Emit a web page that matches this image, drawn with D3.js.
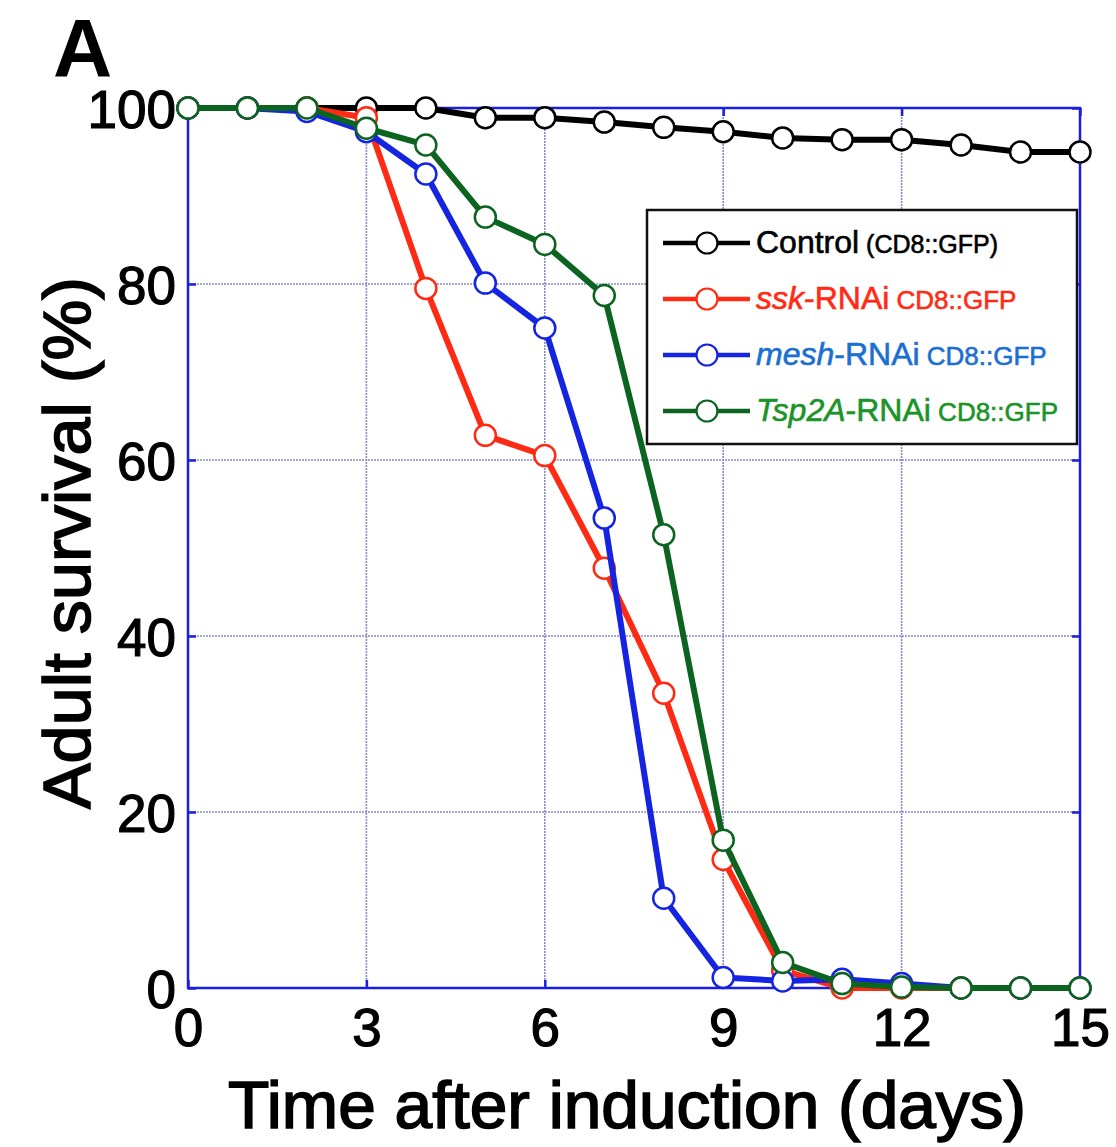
<!DOCTYPE html>
<html>
<head>
<meta charset="utf-8">
<script src="https://cdn.jsdelivr.net/npm/d3@7"></script>
<style>
  html, body { margin: 0; padding: 0; background: #ffffff; }
  svg { display: block; }
  text { font-family: "Liberation Sans", Arial, Helvetica, sans-serif; }
</style>
</head>
<body>
<svg id="chart" width="1116" height="1147"></svg>
<script>
// ---- data ----
const days = [0, 1, 2, 3, 4, 5, 6, 7, 8, 9, 10, 11, 12, 13, 14, 15];
const controlValues = [100, 100, 100, 100, 100, 98.9, 98.9, 98.4, 97.8, 97.3, 96.6, 96.4, 96.4, 95.8, 95.0, 95.0];
const sskValues     = [100, 100, 100, 98.9, 79.5, 62.8, 60.5, 47.7, 33.5, 14.6, 2.0, 0, 0, 0, 0, 0];
const meshValues    = [100, 100, 99.6, 97.3, 92.5, 80.1, 75.0, 53.4, 10.2, 1.2, 0.8, 1.0, 0.5, 0, 0, 0];
const tspValues     = [100, 100, 100, 97.7, 95.8, 87.6, 84.5, 78.7, 51.5, 16.8, 2.9, 0.5, 0.1, 0, 0, 0];
const xTicks = [0, 3, 6, 9, 12, 15];
const yTicks = [0, 20, 40, 60, 80, 100];
const seriesNames = ["Control", "ssk-RNAi", "mesh-RNAi", "Tsp2A-RNAi"];

const series = [
  { name: seriesNames[0], values: controlValues, color: "#000000", text: "#000000",
    parts: [{t: "Control", it: false, size: 32}, {t: " (CD8::GFP)", it: false, size: 25}] },
  { name: seriesNames[1], values: sskValues, color: "#ff2a14", text: "#ff2a14",
    parts: [{t: "ssk", it: true, size: 32}, {t: "-RNAi", it: false, size: 32}, {t: " CD8::GFP", it: false, size: 26}] },
  { name: seriesNames[2], values: meshValues, color: "#1424e0", text: "#1a6fd2",
    parts: [{t: "mesh", it: true, size: 32}, {t: "-RNAi", it: false, size: 32}, {t: " CD8::GFP", it: false, size: 26}] },
  { name: seriesNames[3], values: tspValues, color: "#0d6420", text: "#1a9428",
    parts: [{t: "Tsp2A", it: true, size: 32}, {t: "-RNAi", it: false, size: 32}, {t: " CD8::GFP", it: false, size: 26}] }
];

// ---- layout ----
const svg = d3.select("#chart");
const pL = 188, pR = 1080, pT = 108, pB = 988;
const x = d3.scaleLinear().domain([0, 15]).range([pL, pR]);
const y = d3.scaleLinear().domain([0, 100]).range([pB, pT]);

// grid lines
const grid = svg.append("g");
grid.selectAll("line.gx").data(xTicks.filter(d => d > 0 && d < 15)).join("line")
  .attr("x1", d => x(d)).attr("x2", d => x(d)).attr("y1", pT).attr("y2", pB)
  .attr("stroke", "#8a8ac6").attr("stroke-width", 1.6).attr("stroke-dasharray", "2,1");
grid.selectAll("line.gy").data(yTicks.filter(d => d > 0 && d < 100)).join("line")
  .attr("x1", pL).attr("x2", pR).attr("y1", d => y(d)).attr("y2", d => y(d))
  .attr("stroke", "#8a8ac6").attr("stroke-width", 1.6).attr("stroke-dasharray", "2,1");

// frame
svg.append("rect").attr("x", pL).attr("y", pT).attr("width", pR - pL).attr("height", pB - pT)
  .attr("fill", "none").attr("stroke", "#1a1ee0").attr("stroke-width", 2.5);

// axes (inner ticks)
const axB = svg.append("g").attr("transform", `translate(0,${pB})`)
  .call(d3.axisBottom(x).tickValues(xTicks).tickSizeInner(-8).tickSizeOuter(0).tickPadding(20).tickFormat(d3.format("d")));
const axT = svg.append("g").attr("transform", `translate(0,${pT})`)
  .call(d3.axisTop(x).tickValues(xTicks).tickSizeInner(-8).tickSizeOuter(0).tickFormat(""));
const axL = svg.append("g").attr("transform", `translate(${pL},0)`)
  .call(d3.axisLeft(y).tickValues(yTicks).tickSizeInner(-8).tickSizeOuter(0).tickPadding(12).tickFormat(d3.format("d")));
const axR = svg.append("g").attr("transform", `translate(${pR},0)`)
  .call(d3.axisRight(y).tickValues(yTicks).tickSizeInner(-8).tickSizeOuter(0).tickFormat(""));
[axB, axT, axL, axR].forEach(a => {
  a.select(".domain").remove();
  a.selectAll(".tick line").attr("stroke", "#1a1ee0").attr("stroke-width", 2.5);
});
[axB, axL].forEach(a => a.selectAll(".tick text")
  .attr("font-size", 53).attr("fill", "#000").attr("stroke", "#000").attr("stroke-width", 1.2)
  .attr("font-family", "Liberation Sans, Arial, sans-serif"));
axB.selectAll(".tick text").attr("dy", "0.71em");
axL.selectAll(".tick text").attr("dy", "0.36em");

// lines
const line = d3.line().x((d, i) => x(days[i])).y(d => y(d));
const plot = svg.append("g");
series.forEach(s => {
  plot.append("path").datum(s.values).attr("d", line)
    .attr("fill", "none").attr("stroke", s.color).attr("stroke-width", 6)
    .attr("stroke-linejoin", "round");
  plot.selectAll(null).data(s.values).join("circle")
    .attr("cx", (d, i) => x(days[i])).attr("cy", d => y(d)).attr("r", 10.5)
    .attr("fill", "#ffffff").attr("stroke", s.color).attr("stroke-width", 2.5);
});

// legend
const lg = svg.append("g");
lg.append("rect").attr("x", 647).attr("y", 210).attr("width", 430).attr("height", 234)
  .attr("fill", "#ffffff").attr("stroke", "#111").attr("stroke-width", 2.5);
const rowY = d3.scalePoint().domain(seriesNames).range([243, 411]);
series.forEach(s => {
  const cy = rowY(s.name);
  lg.append("line").attr("x1", 663).attr("x2", 750).attr("y1", cy).attr("y2", cy)
    .attr("stroke", s.color).attr("stroke-width", 4.5);
  lg.append("circle").attr("cx", 707).attr("cy", cy).attr("r", 10.5)
    .attr("fill", "#fff").attr("stroke", s.color).attr("stroke-width", 2.2);
  const t = lg.append("text").attr("x", 756).attr("y", cy + 10).attr("fill", s.text)
    .attr("stroke", s.text).attr("stroke-width", 0.6);
  s.parts.forEach(p => {
    t.append("tspan").text(p.t).attr("font-size", p.size)
      .attr("font-style", p.it ? "italic" : "normal");
  });
});

// titles
svg.append("text").attr("x", 627).attr("y", 1128).attr("text-anchor", "middle")
  .attr("font-size", 66).attr("fill", "#000").attr("stroke", "#000").attr("stroke-width", 1.6)
  .attr("textLength", 798).attr("lengthAdjust", "spacingAndGlyphs")
  .text("Time after induction (days)");
svg.append("text").attr("transform", `translate(90,543) rotate(-90)`)
  .attr("text-anchor", "middle").attr("font-size", 66).attr("fill", "#000")
  .attr("stroke", "#000").attr("stroke-width", 1.6)
  .attr("textLength", 532).attr("lengthAdjust", "spacingAndGlyphs")
  .text("Adult survival (%)");
svg.append("text").attr("x", 53).attr("y", 76).attr("font-size", 82).attr("font-weight", "bold")
  .attr("fill", "#000").text("A");
</script>
</body>
</html>
